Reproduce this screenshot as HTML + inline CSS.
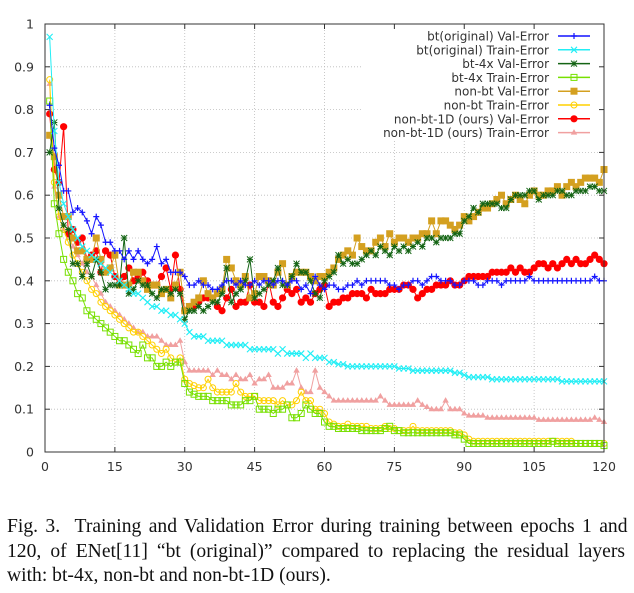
<!DOCTYPE html>
<html><head><meta charset="utf-8"><style>
body{margin:0;background:#fff;width:634px;height:593px;overflow:hidden;position:relative}
svg{position:absolute;left:0;top:0}
#cap{position:absolute;left:7px;top:515px;width:618px;font-family:"Liberation Serif",serif;font-size:19.6px;line-height:24.5px;color:#111}
#cap div{white-space:nowrap}
#cap span{display:inline-block;white-space:nowrap}
</style></head><body>
<svg id="chart" width="634" height="500" font-family="DejaVu Sans, Liberation Sans, sans-serif"></svg>
<div id="cap"><div><span class="j">Fig. 3.&nbsp; Training and Validation Error during training between epochs 1 and</span></div><div><span class="j">120, of ENet[11] “bt (original)” compared to replacing the residual layers</span></div><div><span id="l3">with: bt-4x, non-bt and non-bt-1D (ours).</span></div></div>
<script>
const xTicks=[0,15,30,45,60,75,90,105,120];
const yTicks=[0,0.1,0.2,0.3,0.4,0.5,0.6,0.7,0.8,0.9,1];
const yTickLabels=["0","0.1","0.2","0.3","0.4","0.5","0.6","0.7","0.8","0.9","1"];
const seriesNames=["bt(original) Val-Error","bt(original) Train-Error","bt-4x Val-Error","bt-4x Train-Error","non-bt Val-Error","non-bt Train-Error","non-bt-1D (ours) Val-Error","non-bt-1D (ours) Train-Error"];
const btVal=[0.81,0.71,0.67,0.61,0.61,0.56,0.57,0.56,0.54,0.51,0.55,0.53,0.49,0.49,0.47,0.47,0.45,0.47,0.45,0.47,0.45,0.44,0.45,0.48,0.44,0.45,0.42,0.42,0.42,0.41,
0.39,0.39,0.40,0.39,0.39,0.38,0.38,0.39,0.40,0.40,0.39,0.40,0.39,0.39,0.40,0.39,0.40,0.40,0.39,0.40,0.40,0.39,0.40,0.40,0.38,0.39,0.37,0.41,0.39,0.38,
0.39,0.39,0.38,0.38,0.39,0.39,0.40,0.39,0.40,0.40,0.40,0.40,0.40,0.39,0.39,0.38,0.39,0.39,0.40,0.40,0.39,0.40,0.41,0.41,0.40,0.40,0.40,0.39,0.39,0.40,
0.40,0.40,0.39,0.39,0.40,0.40,0.40,0.39,0.40,0.40,0.40,0.40,0.40,0.41,0.40,0.40,0.40,0.40,0.40,0.40,0.40,0.40,0.40,0.40,0.40,0.40,0.40,0.41,0.40,0.40];
const btTrain=[0.97,0.75,0.63,0.58,0.55,0.52,0.50,0.48,0.47,0.46,0.45,0.44,0.43,0.42,0.41,0.40,0.39,0.38,0.37,0.37,0.36,0.35,0.34,0.34,0.33,0.33,0.32,0.32,0.31,0.30,
0.28,0.27,0.27,0.27,0.26,0.26,0.26,0.26,0.25,0.25,0.25,0.25,0.25,0.24,0.24,0.24,0.24,0.24,0.24,0.23,0.24,0.23,0.23,0.23,0.23,0.22,0.23,0.22,0.22,0.22,
0.21,0.21,0.205,0.205,0.20,0.20,0.20,0.20,0.20,0.20,0.20,0.20,0.20,0.20,0.20,0.195,0.195,0.195,0.19,0.19,0.19,0.19,0.19,0.19,0.19,0.19,0.19,0.185,0.185,0.18,
0.175,0.175,0.175,0.175,0.175,0.17,0.17,0.17,0.17,0.17,0.17,0.17,0.17,0.17,0.17,0.17,0.17,0.17,0.17,0.17,0.165,0.165,0.165,0.165,0.165,0.165,0.165,0.165,0.165,0.165];
const bt4xVal=[0.70,0.77,0.57,0.53,0.52,0.44,0.44,0.41,0.44,0.41,0.45,0.42,0.38,0.39,0.39,0.39,0.50,0.37,0.38,0.40,0.39,0.39,0.37,0.36,0.38,0.38,0.37,0.38,0.37,0.31,
0.33,0.33,0.34,0.33,0.34,0.35,0.35,0.37,0.43,0.35,0.37,0.38,0.40,0.45,0.36,0.37,0.38,0.39,0.40,0.43,0.39,0.39,0.41,0.44,0.42,0.42,0.40,0.37,0.36,0.40,
0.41,0.42,0.46,0.44,0.45,0.44,0.44,0.45,0.46,0.47,0.46,0.48,0.47,0.46,0.48,0.47,0.48,0.47,0.48,0.49,0.48,0.50,0.50,0.49,0.50,0.50,0.50,0.51,0.51,0.54,
0.55,0.57,0.56,0.58,0.58,0.58,0.58,0.57,0.57,0.59,0.60,0.60,0.60,0.61,0.61,0.59,0.60,0.60,0.60,0.61,0.61,0.60,0.60,0.61,0.61,0.61,0.62,0.62,0.61,0.61];
const bt4xTrain=[0.82,0.58,0.51,0.45,0.42,0.40,0.37,0.36,0.33,0.32,0.31,0.30,0.29,0.28,0.27,0.26,0.26,0.25,0.24,0.23,0.25,0.22,0.22,0.20,0.20,0.21,0.20,0.21,0.21,0.16,
0.14,0.135,0.13,0.13,0.13,0.12,0.12,0.12,0.12,0.11,0.11,0.11,0.12,0.12,0.13,0.10,0.10,0.10,0.09,0.10,0.10,0.11,0.08,0.08,0.09,0.11,0.10,0.09,0.09,0.07,
0.06,0.06,0.055,0.055,0.055,0.055,0.055,0.05,0.05,0.05,0.05,0.05,0.055,0.06,0.05,0.05,0.045,0.045,0.045,0.045,0.045,0.045,0.045,0.045,0.045,0.045,0.045,0.04,0.04,0.03,
0.02,0.02,0.02,0.02,0.02,0.02,0.02,0.02,0.02,0.02,0.02,0.02,0.02,0.02,0.02,0.02,0.02,0.02,0.025,0.02,0.02,0.02,0.02,0.02,0.02,0.02,0.02,0.02,0.02,0.015];
const nonbtVal=[0.74,0.69,0.60,0.55,0.55,0.50,0.47,0.47,0.45,0.45,0.50,0.45,0.42,0.43,0.46,0.39,0.39,0.39,0.42,0.42,0.40,0.38,0.39,0.39,0.37,0.38,0.36,0.39,0.42,0.33,
0.34,0.35,0.36,0.40,0.37,0.36,0.37,0.38,0.45,0.43,0.40,0.39,0.41,0.36,0.37,0.41,0.41,0.40,0.39,0.42,0.44,0.39,0.41,0.42,0.42,0.42,0.41,0.40,0.41,0.41,
0.42,0.43,0.45,0.46,0.47,0.46,0.50,0.48,0.47,0.47,0.49,0.50,0.48,0.51,0.49,0.50,0.50,0.49,0.50,0.50,0.51,0.51,0.54,0.51,0.54,0.54,0.53,0.52,0.53,0.55,
0.54,0.55,0.56,0.57,0.57,0.58,0.59,0.60,0.58,0.59,0.60,0.59,0.58,0.60,0.61,0.60,0.60,0.61,0.61,0.62,0.60,0.62,0.63,0.62,0.63,0.64,0.64,0.64,0.63,0.66];
const nonbtTrain=[0.87,0.63,0.55,0.52,0.49,0.46,0.44,0.42,0.40,0.38,0.37,0.35,0.34,0.33,0.32,0.31,0.30,0.29,0.28,0.28,0.27,0.26,0.25,0.24,0.23,0.24,0.22,0.21,0.22,0.17,
0.16,0.155,0.15,0.15,0.17,0.15,0.14,0.14,0.14,0.14,0.16,0.14,0.13,0.13,0.13,0.12,0.12,0.12,0.12,0.11,0.12,0.11,0.11,0.12,0.14,0.12,0.12,0.10,0.10,0.09,
0.07,0.065,0.06,0.06,0.065,0.06,0.06,0.06,0.06,0.055,0.055,0.055,0.06,0.055,0.055,0.05,0.05,0.05,0.06,0.05,0.05,0.05,0.05,0.05,0.05,0.05,0.05,0.045,0.045,0.04,
0.03,0.025,0.025,0.025,0.025,0.025,0.025,0.025,0.025,0.025,0.025,0.025,0.025,0.025,0.025,0.025,0.025,0.025,0.025,0.025,0.025,0.025,0.025,0.02,0.02,0.02,0.02,0.02,0.02,0.02];
const nonbt1dVal=[0.79,0.66,0.63,0.76,0.51,0.52,0.49,0.50,0.45,0.46,0.47,0.42,0.47,0.46,0.41,0.39,0.41,0.43,0.40,0.41,0.42,0.40,0.39,0.39,0.41,0.43,0.38,0.46,0.38,0.33,
0.34,0.34,0.35,0.36,0.36,0.36,0.34,0.33,0.36,0.38,0.34,0.35,0.35,0.39,0.35,0.35,0.34,0.40,0.35,0.34,0.36,0.38,0.37,0.38,0.35,0.36,0.35,0.37,0.38,0.39,
0.34,0.35,0.35,0.36,0.36,0.37,0.37,0.37,0.36,0.38,0.37,0.37,0.37,0.38,0.38,0.38,0.39,0.39,0.38,0.36,0.37,0.38,0.38,0.39,0.39,0.39,0.40,0.39,0.39,0.40,
0.41,0.41,0.41,0.41,0.41,0.42,0.42,0.42,0.42,0.43,0.42,0.43,0.42,0.42,0.43,0.44,0.44,0.43,0.44,0.43,0.44,0.45,0.44,0.45,0.44,0.44,0.45,0.46,0.45,0.44];
const nonbt1dTrain=[0.86,0.62,0.55,0.52,0.50,0.48,0.46,0.44,0.42,0.41,0.39,0.37,0.35,0.34,0.33,0.32,0.31,0.30,0.29,0.28,0.28,0.27,0.27,0.27,0.26,0.25,0.25,0.25,0.26,0.21,
0.19,0.19,0.19,0.19,0.19,0.18,0.19,0.18,0.18,0.17,0.18,0.17,0.17,0.18,0.16,0.17,0.17,0.18,0.15,0.15,0.15,0.16,0.16,0.19,0.15,0.14,0.14,0.19,0.15,0.14,
0.13,0.12,0.12,0.12,0.12,0.12,0.12,0.12,0.12,0.12,0.12,0.13,0.12,0.11,0.11,0.11,0.11,0.11,0.11,0.12,0.11,0.105,0.10,0.10,0.10,0.12,0.10,0.10,0.10,0.09,
0.085,0.085,0.085,0.085,0.08,0.08,0.08,0.08,0.08,0.08,0.08,0.08,0.08,0.08,0.08,0.075,0.075,0.075,0.075,0.075,0.075,0.075,0.075,0.075,0.075,0.075,0.075,0.08,0.075,0.07];
const series=[btVal,btTrain,bt4xVal,bt4xTrain,nonbtVal,nonbtTrain,nonbt1dVal,nonbt1dTrain];
const colors=["#1414ff","#22eef5","#146414","#77e000","#d4a020","#ffd000","#ff0000","#f0a0a0"];
const markers=["plus","cross","star","sq","fsq","circ","fcirc","tri"];
const slugs=["bt-val","bt-train","bt4x-val","bt4x-train","nonbt-val","nonbt-train","nonbt1d-val","nonbt1d-train"];

document.querySelectorAll('#cap .j').forEach(s=>{
  const w=s.getBoundingClientRect().width;
  const n=(s.textContent.match(/ /g)||[]).length;
  s.style.wordSpacing=((618-w)/n)+'px';
});

const NS="http://www.w3.org/2000/svg";
const svg=document.getElementById('chart');
const L=45,R=604,T=24,B=452;
const xs=e=>L+e*(R-L)/120;
const ys=v=>B-v*(B-T);
function mk(tag,attrs,parent){const el=document.createElementNS(NS,tag);for(const k in attrs)el.setAttribute(k,attrs[k]);(parent||svg).appendChild(el);return el;}

const grid=mk('g',{});


xTicks.forEach(t=>{if(t>0&&t<120)mk('line',{x1:xs(t),x2:xs(t),y1:T,y2:B,stroke:'#bbb','stroke-width':0.8,'stroke-dasharray':'1,2'},grid);});
yTicks.forEach(t=>{if(t>0&&t<1)mk('line',{x1:L,x2:R,y1:ys(t),y2:ys(t),stroke:'#bbb','stroke-width':0.8,'stroke-dasharray':'1,2'},grid);});

mk('rect',{x:362,y:27,width:240,height:113,fill:'#fff'});

yTicks.forEach((t,i)=>{
  mk('line',{x1:L,x2:L+5,y1:ys(t),y2:ys(t),stroke:'#333'});
  mk('line',{x1:R,x2:R-5,y1:ys(t),y2:ys(t),stroke:'#333'});
  const tx=mk('text',{x:34,y:ys(t)+4.5,'text-anchor':'end','font-size':12.5,fill:'#333'});
  tx.textContent=yTickLabels[i];
  
  
});
xTicks.forEach(t=>{
  mk('line',{x1:xs(t),x2:xs(t),y1:B,y2:B-5,stroke:'#333'});
  mk('line',{x1:xs(t),x2:xs(t),y1:T,y2:T+5,stroke:'#333'});
  const tx=mk('text',{x:xs(t),y:471,'text-anchor':'middle','font-size':12.5,fill:'#333'});
  tx.textContent=String(t);
  
  
});

function marker(type,x,y,c,g){
  const s=3;
  if(type==='plus'){mk('path',{d:`M${x-s} ${y}H${x+s}M${x} ${y-s}V${y+s}`,stroke:c,'stroke-width':1.2,fill:'none'},g);}
  else if(type==='cross'){mk('path',{d:`M${x-s} ${y-s}L${x+s} ${y+s}M${x-s} ${y+s}L${x+s} ${y-s}`,stroke:c,'stroke-width':1.1,fill:'none'},g);}
  else if(type==='star'){mk('path',{d:`M${x-s} ${y}H${x+s}M${x} ${y-s}V${y+s}M${x-s} ${y-s}L${x+s} ${y+s}M${x-s} ${y+s}L${x+s} ${y-s}`,stroke:c,'stroke-width':1,fill:'none'},g);}
  else if(type==='sq'){mk('rect',{x:x-3,y:y-3,width:6,height:6,stroke:c,'stroke-width':1,fill:'none'},g);}
  else if(type==='fsq'){mk('rect',{x:x-3.5,y:y-3.5,width:7,height:7,fill:c},g);}
  else if(type==='circ'){mk('circle',{cx:x,cy:y,r:3,stroke:c,'stroke-width':1,fill:'none'},g);}
  else if(type==='fcirc'){mk('circle',{cx:x,cy:y,r:3.6,fill:c},g);}
  else if(type==='tri'){mk('path',{d:`M${x} ${y-3.5}L${x+3.2} ${y+2}L${x-3.2} ${y+2}Z`,fill:c},g);}
}

for(let k=series.length-1;k>=0;k--){
  const g=mk('g',{});
  
  
  const pts=series[k].map((v,i)=>xs(i+1)+','+ys(v)).join(' ');
  mk('polyline',{points:pts,fill:'none',stroke:colors[k],'stroke-width':1},g);
  series[k].forEach((v,i)=>marker(markers[k],xs(i+1),ys(v),colors[k],g));
}

const fr=mk('rect',{x:L,y:T,width:R-L,height:B-T,fill:'none',stroke:'#333','stroke-width':1});



const lg=mk('g',{});


seriesNames.forEach((n,k)=>{
  const y=36+k*13.8;
  const e=mk('g',{},lg);
  
  
  const t=mk('text',{x:549,y:y+4.5,'text-anchor':'end','font-size':12,fill:'#333'},e);
  t.textContent=n;
  mk('line',{x1:558,x2:590,y1:y,y2:y,stroke:colors[k],'stroke-width':1.5},e);
  marker(markers[k],574,y,colors[k],e);
});
</script>
</body></html>
